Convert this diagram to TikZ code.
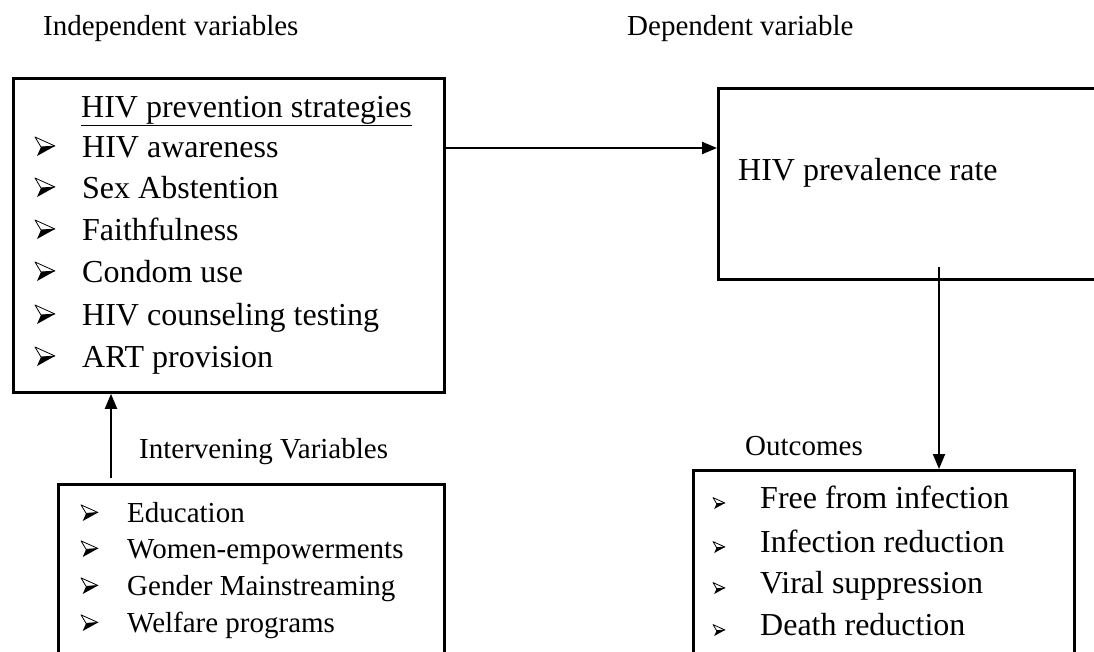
\documentclass[tikz,border=0pt]{standalone}
\usepackage{fontspec}
\setmainfont{Liberation Serif}
\usetikzlibrary{arrows.meta}
\newcommand\szbig{\fontsize{32}{38}\selectfont}
\newcommand\szmid{\fontsize{29}{35}\selectfont}
\tikzset{
  box/.style={draw=black, line width=2.8pt, rectangle, inner sep=0pt, anchor=north west},
  txtbig/.style={anchor=base west, inner sep=0pt, font=\szbig},
  txtmid/.style={anchor=base west, inner sep=0pt, font=\szmid},
  conn/.style={draw=black, line width=2pt, -{Triangle[length=15pt,width=12pt]}},
  arrbul/.pic={
    \fill[black] (6,-9) -- (20,-10) -- (2,0) -- cycle;
    \draw[black, line width=0.8pt, line join=round] (0,-19) -- (20,-10) -- (6,-9) -- cycle;
  },
}
\begin{document}
\begin{tikzpicture}[x=1pt,y=-1pt]
\useasboundingbox (0,0) rectangle (1094,651);
% boxes
\node[box, minimum width=431pt, minimum height=314pt] (iv) at (12,77) {};
\node[box, minimum width=400pt, minimum height=191pt] (dv) at (717,87) {};
\node[box, minimum width=386pt, minimum height=200pt] (int) at (57,483) {};
\node[box, minimum width=381pt, minimum height=200pt] (out) at (692,469) {};
% headings
\node[txtmid] (hiv) at (43,35) {Independent variables};
\node[txtmid] (hdv) at (627,35) {Dependent variable};
\node[txtmid] (hint) at (139,458) {Intervening Variables};
\node[txtmid] (hout) at (745,455) {Outcomes};
% independent box
\node[txtbig] (ivt) at (81,117) {\underline{HIV prevention strategies}};
\foreach \y/\t [count=\i] in {157/HIV awareness,198/Sex Abstention,240/Faithfulness,282/Condom use,325/HIV counseling testing,367/ART provision}{
  \pic at (35,\y-1) {arrbul};
  \node[txtbig] (ivi\i) at (82,\y) {\t};
}
% dependent box
\node[txtbig] (dvt) at (738,180) {HIV prevalence rate};
% intervening box
\foreach \y/\t [count=\i] in {522/Education,558/Women-empowerments,595/Gender Mainstreaming,632/Welfare programs}{
  \pic[scale=0.85] at (81,\y-1) {arrbul};
  \node[txtmid] (ini\i) at (127,\y) {\t};
}
% outcomes box
\foreach \y/\t [count=\i] in {508/Free from infection,552/Infection reduction,593/Viral suppression,635/Death reduction}{
  \pic[scale=0.6] at (713,\y+1) {arrbul};
  \node[txtbig] (oui\i) at (760,\y) {\t};
}
% connectors
\coordinate (a1) at (443,148);
\draw[conn] (iv.east |- a1) -- (dv.west |- a1);
\coordinate (a2) at (939,267);
\draw[conn] (a2) -- (out.north -| a2);
\coordinate (a3) at (111,478);
\draw[conn] (a3) -- (iv.south -| a3);
\end{tikzpicture}
\end{document}
